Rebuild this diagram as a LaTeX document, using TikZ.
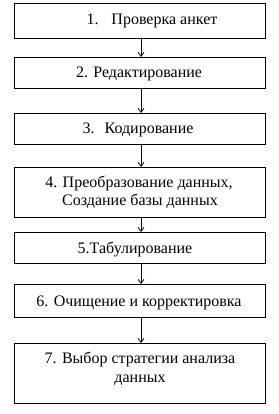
\documentclass[tikz,border=0pt]{standalone}
\usepackage{fontspec}
\setmainfont{Liberation Serif}
\usetikzlibrary{arrows.meta}
\begin{document}
\begin{tikzpicture}[x=1pt,y=-1pt,
  box/.style={draw=black,line width=1pt,minimum width=251pt,inner sep=0pt,anchor=north west},
  txt/.style={font=\fontsize{16pt}{18pt}\selectfont,inner sep=0pt,anchor=base,align=center},
  arr/.style={-{Straight Barb[length=4pt,width=6pt]},line width=0.8pt}]
\useasboundingbox (0,0) rectangle (278,414);
\node[box,minimum height=35pt] (b1) at (14,3) {};
\node[box,minimum height=31pt] (b2) at (14,57) {};
\node[box,minimum height=31pt] (b3) at (14,113) {};
\node[box,minimum height=50pt] (b4) at (14,167) {};
\node[box,minimum height=31pt] (b5) at (14,232) {};
\node[box,minimum height=33pt] (b6) at (14,284) {};
\node[box,minimum height=60pt] (b7) at (14,343) {};
\node[txt] (t1) at (152,25) {1.\hspace{0.8em}Проверка анкет};
\node[txt] (t2) at (139,78) {2. Редактирование};
\node[txt] (t3) at (138,134) {3.\hspace{0.3em} Кодирование};
\node[txt] (t4a) at (139,187) {4. Преобразование данных,};
\node[txt] (t4b) at (140,205) {Создание базы данных};
\node[txt] (t5) at (135,253) {5.Табулирование};
\node[txt] (t6) at (139,306) {6. Очищение и корректировка};
\node[txt] (t7a) at (140,363) {7. Выбор стратегии анализа};
\node[txt] (t7b) at (140,382) {данных};
\draw[arr] (b1.south -| 141,0) -- (b2.north -| 141,0);
\draw[arr] (b2.south -| 141,0) -- (b3.north -| 141,0);
\draw[arr] (b3.south -| 141,0) -- (b4.north -| 141,0);
\draw[arr] (b4.south -| 141,0) -- (b5.north -| 141,0);
\draw[arr] (b5.south -| 141,0) -- (b6.north -| 141,0);
\draw[arr] (b6.south -| 141,0) -- (b7.north -| 141,0);
\end{tikzpicture}
\end{document}
